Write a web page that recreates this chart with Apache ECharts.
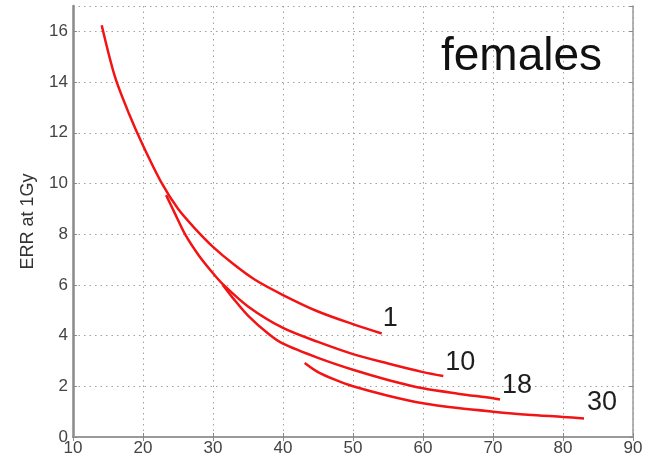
<!DOCTYPE html>
<html>
<head>
<meta charset="utf-8">
<script src="https://cdn.jsdelivr.net/npm/echarts@6/dist/echarts.min.js"></script>
<style>
html,body{margin:0;padding:0;background:#fff;}
#chart{width:654px;height:462px;}
</style>
</head>
<body>
<div id="chart"></div>
<script>
// Tick labels
var xTicks = [10, 20, 30, 40, 50, 60, 70, 80, 90];
var yTicks = [0, 2, 4, 6, 8, 10, 12, 14, 16];
// Curve names (age at exposure)
var curveNames = ['1', '10', '18', '30'];

// Curve "1"
var xA = [14.1, 16, 18, 20, 22.7, 25, 27.5, 30, 33, 36, 40, 45, 50, 54.1];
var yA = [16.24, 14.2, 12.75, 11.5, 10.0, 9.0, 8.2, 7.5, 6.8, 6.2, 5.6, 4.95, 4.45, 4.08];
// Curve "10"
var xB = [23.3, 24.5, 26, 28, 30, 31.5, 35, 40, 45, 50, 55, 60, 62.9];
var yB = [9.54, 8.85, 8.0, 7.15, 6.46, 6.0, 5.15, 4.3, 3.75, 3.27, 2.9, 2.56, 2.41];
// Curve "18"
var xC = [31.4, 33, 35, 38, 40, 45, 50, 55, 60, 65, 70, 71];
var yC = [6.0, 5.43, 4.79, 4.05, 3.68, 3.12, 2.65, 2.25, 1.92, 1.71, 1.53, 1.48];
// Curve "30"
var xD = [43.1, 45, 47.5, 50, 55, 60, 65, 70, 75, 80, 83];
var yD = [2.92, 2.56, 2.25, 2.0, 1.63, 1.33, 1.14, 1.0, 0.88, 0.79, 0.73];

var curves = [[xA, yA], [xB, yB], [xC, yC], [xD, yD]];
var labelOffsets = [[1, -15], [2, -13], [2, -14], [3, -16]];

function pairs(xs, ys) {
  var out = [];
  for (var i = 0; i < xs.length; i++) out.push([xs[i], ys[i]]);
  return out;
}

var FONT = '"Liberation Sans", Arial, sans-serif';
var lineColor = '#f21414';

var series = curves.map(function (c, i) {
  return {
    name: curveNames[i],
    type: 'line',
    data: pairs(c[0], c[1]),
    smooth: 0.3,
    showSymbol: false,
    symbol: 'none',
    lineStyle: { color: lineColor, width: 2.5 },
    itemStyle: { color: lineColor },
    endLabel: {
      show: true,
      formatter: function (p) { return p.seriesName; },
      fontFamily: FONT,
      fontSize: 27,
      color: '#1e1e1e',
      distance: 0,
      offset: labelOffsets[i]
    },
    z: 5
  };
});

var gridDots = { color: '#a0a0a0', type: [1.5, 4], width: 1 };

var chart = echarts.init(document.getElementById('chart'), null, { renderer: 'canvas' });
chart.setOption({
  animation: false,
  backgroundColor: '#ffffff',
  title: {
    text: 'females',
    left: 436,
    top: 29,
    textStyle: { fontFamily: FONT, fontSize: 46, fontWeight: 'normal', color: '#111' }
  },
  grid: { left: 73, right: 21, top: 6, bottom: 25, containLabel: false },
  xAxis: [{
    type: 'value',
    min: xTicks[0],
    max: xTicks[xTicks.length - 1],
    interval: 10,
    axisLine: { show: true, lineStyle: { color: '#8a8a8a', width: 2 } },
    axisTick: { show: true, inside: true, length: 4, lineStyle: { color: '#8a8a8a' } },
    axisLabel: { fontFamily: FONT, fontSize: 17, color: '#444', margin: 3 },
    splitLine: { show: true, lineStyle: gridDots }
  }, {
    type: 'value',
    position: 'top',
    min: xTicks[0],
    max: xTicks[xTicks.length - 1],
    interval: 10,
    axisLine: { show: true, lineStyle: { color: '#9a9a9a', width: 2 } },
    axisTick: { show: true, inside: true, length: 4, lineStyle: { color: '#8a8a8a' } },
    axisLabel: { show: false },
    splitLine: { show: false }
  }],
  yAxis: [{
    type: 'value',
    min: 0,
    max: 17,
    interval: 2,
    name: 'ERR at 1Gy',
    nameLocation: 'middle',
    nameGap: 36,
    nameRotate: 90,
    nameTextStyle: { fontFamily: FONT, fontSize: 18, color: '#333' },
    axisLine: { show: true, lineStyle: { color: '#8a8a8a', width: 2.5 } },
    axisTick: { show: true, inside: true, length: 4, lineStyle: { color: '#8a8a8a' } },
    axisLabel: {
      fontFamily: FONT, fontSize: 17, color: '#444', margin: 5,
      showMaxLabel: false,
      formatter: function (v) { return yTicks.indexOf(v) >= 0 ? String(v) : ''; }
    },
    splitLine: { show: true, lineStyle: gridDots }
  }, {
    type: 'value',
    position: 'right',
    min: 0,
    max: 17,
    interval: 2,
    axisLine: { show: true, lineStyle: { color: '#9a9a9a', width: 1.5 } },
    axisTick: { show: true, inside: true, length: 4, lineStyle: { color: '#8a8a8a' } },
    axisLabel: { show: false },
    splitLine: { show: false }
  }],
  series: series
});
</script>
</body>
</html>
